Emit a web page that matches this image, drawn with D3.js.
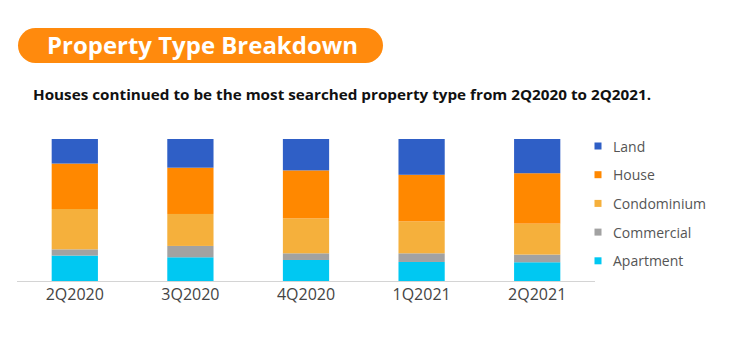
<!DOCTYPE html>
<html>
<head>
<meta charset="utf-8">
<script src="https://cdn.jsdelivr.net/npm/d3@7"></script>
<style>
  body { margin: 0; background: #fff; }
  svg { display: block; font-family: "Open Sans", Lato, sans-serif; }
</style>
</head>
<body>
<div id="chart"></div>
<script>
const quarters = ["2Q2020", "3Q2020", "4Q2020", "1Q2021", "2Q2021"];
// shares in %, per quarter
const apartment   = [17.9, 16.7, 14.8, 13.4, 13.2];
const commercial  = [4.4, 8.0, 4.7, 6.1, 5.4];
const condominium = [28.4, 22.5, 24.6, 22.5, 21.8];
const house       = [32.0, 32.6, 33.8, 32.8, 35.5];
const land        = [17.3, 20.2, 22.1, 25.2, 24.1];

const types = ["Apartment", "Commercial", "Condominium", "House", "Land"];
const colors = ["#00c8f2", "#a2a2a2", "#f5b03c", "#ff8800", "#2f5fc6"];
const legendOrder = ["Land", "House", "Condominium", "Commercial", "Apartment"];

const rows = quarters.map((q, i) => ({
  quarter: q,
  Apartment: apartment[i],
  Commercial: commercial[i],
  Condominium: condominium[i],
  House: house[i],
  Land: land[i]
}));

const width = 732, height = 354;
const svg = d3.select("#chart").append("svg")
  .attr("width", width)
  .attr("height", height);

// title pill
svg.append("rect")
  .attr("x", 18).attr("y", 28)
  .attr("width", 365).attr("height", 35)
  .attr("rx", 17.5)
  .attr("fill", "#ff8a0d");
svg.append("text")
  .attr("x", 47).attr("y", 54)
  .attr("fill", "#fff")
  .attr("font-size", 23)
  .attr("font-weight", 700)
  .attr("textLength", 311)
  .attr("lengthAdjust", "spacingAndGlyphs")
  .text("Property Type Breakdown");

svg.append("text")
  .attr("x", 33).attr("y", 99.5)
  .attr("fill", "#111")
  .attr("font-size", 15)
  .attr("font-weight", 700)
  .attr("textLength", 618)
  .attr("lengthAdjust", "spacingAndGlyphs")
  .text("Houses continued to be the most searched property type from 2Q2020 to 2Q2021.");

const x = d3.scaleBand()
  .domain(quarters)
  .range([17, 595])
  .paddingInner(0.6)
  .paddingOuter(0.3);

const y = d3.scaleLinear()
  .domain([0, 100])
  .range([281, 139]);

const color = d3.scaleOrdinal().domain(types).range(colors);

const stacked = d3.stack().keys(types)(rows);

svg.append("g")
  .selectAll("g")
  .data(stacked)
  .join("g")
  .attr("fill", d => color(d.key))
  .selectAll("rect")
  .data(d => d)
  .join("rect")
  .attr("x", d => x(d.data.quarter))
  .attr("width", x.bandwidth())
  .attr("y", d => y(d[1]))
  .attr("height", d => y(d[0]) - y(d[1]));

// x axis
const xAxis = svg.append("g")
  .attr("transform", "translate(0,281)")
  .call(d3.axisBottom(x).tickSize(0).tickPadding(8));
xAxis.select(".domain").attr("stroke", "#d4d4d4").attr("d", "M17,0.5H595");
xAxis.selectAll("text")
  .attr("font-family", "'Open Sans', Lato, sans-serif")
  .attr("font-size", 16)
  .attr("fill", "#444");

// legend
const legend = svg.append("g")
  .selectAll("g")
  .data(legendOrder)
  .join("g")
  .attr("transform", (d, i) => `translate(594.5,${146 + i * 28.7})`);
legend.append("rect")
  .attr("x", 0).attr("y", -3.5)
  .attr("width", 7).attr("height", 7)
  .attr("fill", d => color(d));
legend.append("text")
  .attr("x", 18.5).attr("y", 5.5)
  .attr("font-size", 14)
  .attr("fill", "#555")
  .text(d => d);
</script>
</body>
</html>
